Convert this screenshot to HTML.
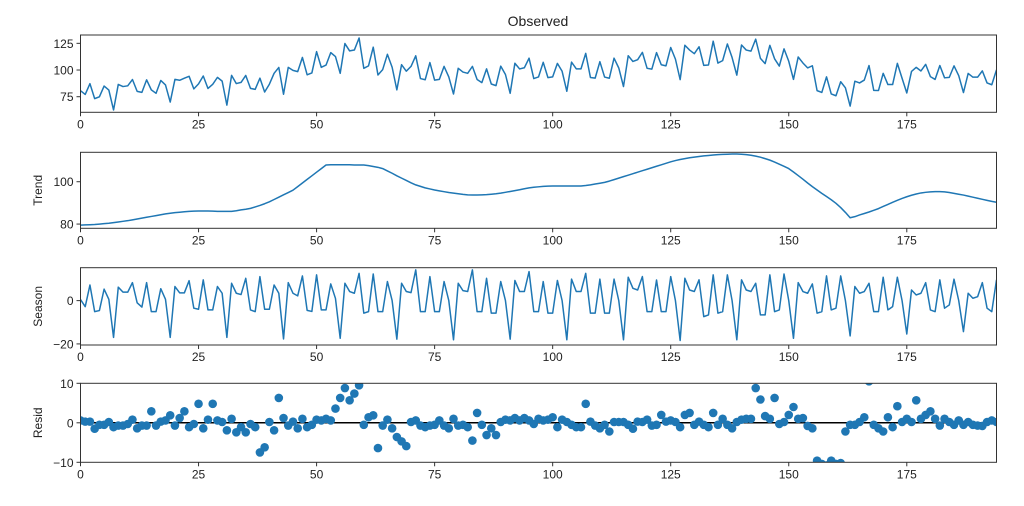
<!DOCTYPE html>
<html><head><meta charset="utf-8"><style>
html,body{margin:0;padding:0;background:#fff;}
svg{display:block;font-family:"Liberation Sans","DejaVu Sans",sans-serif;}
</style></head><body>
<svg id="chart" width="1024" height="506" viewBox="0 0 1024 506"></svg>
<script>
const observed = [80.6,77.1,87.2,73.2,74.9,85.0,81.2,62.6,86.5,84.5,85.2,91.1,80.0,79.1,90.8,81.4,78.2,90.2,86.0,70.0,91.2,90.4,92.3,94.1,82.3,87.0,94.4,82.7,86.6,93.1,89.6,67.1,95.0,87.3,88.4,94.9,82.8,81.9,92.4,79.4,86.7,96.9,102.4,77.3,102.5,99.7,98.5,111.8,95.5,97.3,117.2,102.5,104.6,116.3,112.6,96.9,124.8,117.9,118.7,130.0,101.6,103.9,121.4,95.3,100.4,114.7,102.6,81.4,105.0,98.9,103.4,113.3,92.0,90.9,107.0,90.5,91.2,103.4,93.5,77.5,101.6,98.1,96.9,103.4,91.1,88.2,101.1,86.9,85.4,103.6,95.8,78.2,106.3,101.0,102.1,111.1,92.0,93.5,107.2,92.9,93.6,106.2,98.8,80.1,107.4,101.1,101.1,115.6,93.0,92.4,107.8,93.4,92.3,111.1,101.9,84.5,113.4,108.0,109.7,116.5,101.6,100.8,116.3,104.9,103.9,121.1,110.2,91.0,123.2,118.7,115.3,121.8,104.3,104.7,127.0,106.5,108.8,124.4,111.7,95.2,123.4,118.7,117.7,128.9,110.9,106.0,123.1,110.5,103.7,119.8,108.2,91.2,112.2,106.6,102.0,104.0,80.7,79.0,93.6,77.6,75.9,89.0,83.3,66.2,89.5,87.9,90.6,104.2,80.9,80.8,96.9,86.4,86.4,106.2,92.3,78.5,98.7,102.5,99.1,105.3,93.8,91.2,104.2,92.7,93.1,103.9,94.7,78.9,96.8,93.3,93.3,99.2,87.9,86.2,100.1];
const trend = [79.5,79.6,79.7,79.8,80.0,80.2,80.4,80.7,81.0,81.3,81.6,82.0,82.4,82.8,83.2,83.6,84.0,84.4,84.8,85.1,85.4,85.6,85.8,86.0,86.1,86.2,86.2,86.2,86.1,86.0,86.0,86.0,86.0,86.3,86.7,87.0,87.4,88.1,88.8,89.6,90.5,91.6,92.7,93.8,94.9,96.0,97.7,99.4,101.1,102.8,104.5,106.2,107.9,108.0,108.0,108.0,108.0,108.0,107.9,107.9,107.9,107.6,107.2,106.8,106.2,105.1,104.0,102.8,101.7,100.6,99.5,98.5,97.8,97.1,96.6,96.1,95.7,95.3,94.9,94.6,94.3,94.0,93.8,93.7,93.7,93.8,93.9,94.1,94.3,94.6,95.0,95.4,95.8,96.2,96.7,97.1,97.4,97.6,97.8,97.9,98.0,98.0,98.0,98.0,98.0,98.0,98.0,98.2,98.5,98.9,99.3,99.7,100.3,101.0,101.7,102.4,103.1,103.8,104.5,105.2,105.9,106.6,107.3,108.0,108.7,109.4,110.0,110.5,110.9,111.3,111.6,111.9,112.2,112.4,112.6,112.8,112.9,113.0,113.1,113.1,113.0,112.8,112.5,112.1,111.6,110.9,110.2,109.3,108.3,107.3,106.2,104.6,102.9,101.2,99.4,97.7,96.1,94.5,93.0,91.5,89.8,87.8,85.5,83.0,83.5,84.3,85.0,85.7,86.5,87.3,88.3,89.3,90.3,91.2,92.1,92.9,93.6,94.2,94.7,95.0,95.2,95.3,95.3,95.2,94.9,94.5,94.1,93.7,93.2,92.7,92.2,91.7,91.2,90.7,90.3];
const season = [0.5,-2.8,7.2,-5.1,-4.6,5.3,0.6,-17,6.2,3.9,3.9,8.3,
-1,-3,8.3,-5.1,-5.1,5.5,0.6,-17,6.5,3.6,3.6,9.2,
-3.5,-4,9.6,-4.3,-4.3,6.5,3.4,-17,8,3.4,2.8,10.3,
-4.3,-5.1,11.1,-4,-4,7.2,3.4,-17.7,8.3,3.4,2.2,11.4,
-4.5,-5,11.9,-4.3,-4.3,7.7,1,-17.4,8,4.2,3.4,12.6,
-5.8,-5.1,12.3,-5.1,-5.1,8.8,0,-17.8,8,4.2,3.7,14.2,
-5.1,-5.1,11.1,-5.1,-5.1,8.8,0,-18.1,8,4.6,4.2,14.2,
-5.1,-5.1,10.3,-5.8,-5.8,8.8,0,-17.8,9.3,4.2,4.2,13.4,
-5.1,-5.1,8.8,-5.8,-5.8,9.3,0,-18.1,9.9,4.2,4.2,12.6,
-5.8,-5.8,9.9,-5.8,-5.8,9.9,0,-18.1,10.8,5.7,4.9,11.1,
-5.1,-5.1,9.5,-5.1,-5.1,11.1,0,-18.4,10.3,4.9,4.2,9.6,
-7.4,-6.6,11.9,-5.8,-5.1,11.9,0,-18.1,9.6,4.9,4.2,8.0,
-6.6,-6.6,11.9,-5.1,-4.3,12.3,0,-17.4,8.3,4.2,3.4,7.7,
-5.8,-5.1,11.4,-4.3,-3.5,11.4,0,-16.3,6.5,3.4,4.2,8.0,
-5.1,-5.1,10.8,-4.3,-2.8,10.8,0,-15.4,4.9,2.6,3.4,8.3,
-4.3,-5.1,9.6,-3.5,-2,9.9,0,-14.3,3.4,1.1,1.8,8.3,
-3.5,-5.1,9.6];
const resid = [0.6,0.3,0.3,-1.5,-0.5,-0.5,0.2,-1.1,-0.7,-0.7,-0.3,0.8,-1.4,-0.7,-0.7,2.9,-0.7,0.3,0.6,1.9,-0.7,1.2,2.9,-1.1,-0.3,4.8,-1.4,0.8,4.8,0.6,0.2,-1.9,1,-2.4,-1.1,-2.4,-0.3,-1.1,-7.5,-6.2,0.2,-1.9,6.3,1.2,-0.7,0.3,-1.4,1,-1.1,-0.5,0.8,0.6,1,0.6,3.6,6.3,8.8,5.7,7.4,9.5,-0.5,1.4,1.9,-6.4,-0.7,0.8,-1.4,-3.6,-4.7,-5.9,0.2,0.6,-0.7,-1.1,-0.7,-0.5,0.6,-0.7,-1.4,1,-0.7,-0.5,-1.1,-4.5,2.5,-0.5,-3.1,-1.4,-3.1,0.2,0.8,0.6,1.2,0.6,1.2,0.6,-0.3,1,0.6,0.8,1.4,-1.1,0.8,0.2,-0.5,-1.1,-1.1,4.8,0.3,-0.7,-1.4,-0.5,-2.2,0.2,0.2,0.2,-0.5,-1.5,0.3,0.2,0.8,-0.7,-0.5,2,0.3,0.6,0.2,-1.1,2,2.5,-0.5,0.3,-0.5,-1.1,2.5,-0.5,1,-0.5,-1.4,0.2,0.8,1,1,8.8,5.9,1.7,1,6.3,-0.3,0.2,2,4,1,1.2,-0.8,-1.4,-9.6,-10.4,-10.8,-9.6,-10.4,-10.2,-2.2,-0.5,-0.5,0.2,1.4,10.5,-0.5,-1.4,-2.2,1.4,-1.1,4.2,0.2,1,0.2,5.7,1,2,2.9,1,-0.7,1,0.2,-0.5,0.6,-0.5,0.2,-0.5,-0.7,-0.8,0.2,0.6,0.2];
const xTicks = [0,25,50,75,100,125,150,175];
const obsTicks = [75,100,125];
const trendTicks = [80,100];
const seasonTicks = [-20,0];
const residTicks = [-10,0,10];

const NS = 'http://www.w3.org/2000/svg';
const svg = document.getElementById('chart');
const X0 = 80.5, X1 = 996.5, XMAX = 194;
function xs(i){ return X0 + (i / XMAX) * (X1 - X0); }
function mk(tag, attrs, parent){
  const e = document.createElementNS(NS, tag);
  for (const k in attrs) e.setAttribute(k, attrs[k]);
  (parent || svg).appendChild(e);
  return e;
}
const C = '#1f77b4';
function panel(key, top, bot, ymin, ymax, ticks, label, vals, kind){
  const g = mk('g', {});
  
  
  const ys = v => bot - (v - ymin) / (ymax - ymin) * (bot - top);
  const cid = 'clip-' + key;
  const cp = mk('clipPath', {id: cid}, g);
  mk('rect', {x: X0, y: top, width: X1 - X0, height: bot - top}, cp);
  const plot = mk('g', {'clip-path': 'url(#' + cid + ')'}, g);
  
  
  if (kind === 'line') {
    let d = '';
    vals.forEach((v, i) => { d += (i ? 'L' : 'M') + xs(i).toFixed(2) + ',' + ys(v).toFixed(2); });
    const p = mk('path', {d: d, fill: 'none', stroke: C, 'stroke-width': 1.5, 'stroke-linejoin': 'round'}, plot);
    
    
  } else {
    const zl = mk('line', {x1: X0, x2: X1, y1: ys(0), y2: ys(0), stroke: '#000', 'stroke-width': 1.5}, plot);
    
    
    vals.forEach((v, i) => {
      const c = mk('circle', {cx: xs(i).toFixed(2), cy: ys(v).toFixed(2), r: 4.3, fill: C}, plot);
      
      
    });
  }
  const fr = mk('rect', {x: X0, y: top, width: X1 - X0, height: bot - top, fill: 'none', stroke: '#333', 'stroke-width': 1}, g);
  
  
  xTicks.forEach(t => {
    const x = xs(t);
    mk('line', {x1: x, x2: x, y1: bot, y2: bot + 4, stroke: '#333', 'stroke-width': 1}, g);
    const tx = mk('text', {x: x, y: bot + 16, 'text-anchor': 'middle', 'font-size': 12, fill: '#222'}, g);
    tx.textContent = t;
    
    
  });
  ticks.forEach(t => {
    const y = ys(t);
    mk('line', {x1: X0 - 4, x2: X0, y1: y, y2: y, stroke: '#333', 'stroke-width': 1}, g);
    const tx = mk('text', {x: X0 - 7, y: y + 4.5, 'text-anchor': 'end', 'font-size': 12, fill: '#222'}, g);
    tx.textContent = t < 0 ? '\u2212' + Math.abs(t) : t;
    
    
  });
  if (label) {
    const cy = (top + bot) / 2;
    const tx = mk('text', {x: 0, y: 0, transform: 'translate(42,' + cy + ') rotate(-90)', 'text-anchor': 'middle', 'font-size': 12, fill: '#222'}, g);
    tx.textContent = label;
    
    
  }
}
const title = mk('text', {x: 538, y: 26, 'text-anchor': 'middle', 'font-size': 14, fill: '#222'});
title.textContent = 'Observed';


panel('observed', 35, 112.3, 60.4, 132.8, obsTicks, null, observed, 'line');
panel('trend', 152.3, 228.3, 78, 113.9, trendTicks, 'Trend', trend, 'line');
panel('season', 267.7, 345, -20.5, 15.2, seasonTicks, 'Season', season, 'line');
panel('resid', 383.3, 462.3, -10, 10, residTicks, 'Resid', resid, 'scatter');
</script>
</body></html>
